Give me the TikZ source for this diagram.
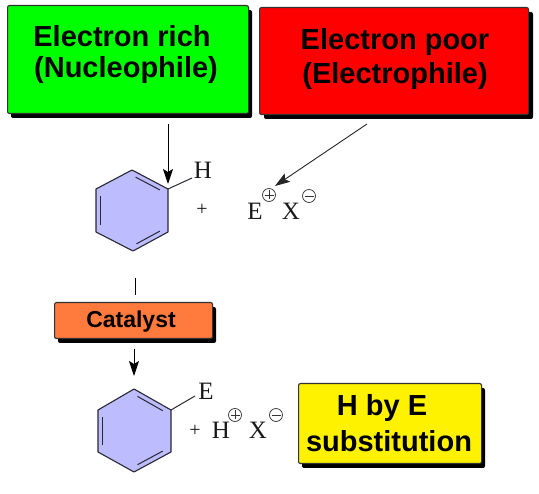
\documentclass[tikz,border=0pt]{standalone}
\usepackage{fontspec}
\setmainfont{Liberation Serif}
\newfontfamily\labelfont[Scale=1]{Liberation Sans}
\usetikzlibrary{arrows.meta,calc}
\definecolor{ringfill}{RGB}{188,188,255}
\definecolor{catfill}{RGB}{255,122,60}
\definecolor{bondcol}{RGB}{40,40,50}
\tikzset{
  x=1pt,y=-1pt,
  boxstyle/.style={draw=black!80,line width=1.1pt,rounded corners=2pt},
  shadowstyle/.style={fill=black,rounded corners=2pt},
  boxtext/.style={font=\labelfont\bfseries\fontsize{#1}{#1}\selectfont,text=black,inner sep=0pt,anchor=center},
  chem/.style={font=\fontsize{25}{25}\selectfont,inner sep=0pt,text=black!90},
  charge/.style={circle,draw=black!80,line width=0.7pt,minimum size=13pt,inner sep=0pt},
  plusmark/.style={font=\fontsize{20}{20}\selectfont,inner sep=0pt,text=black!90},
  ring/.style={fill=ringfill,draw=bondcol,line width=1.1pt,line join=round},
  bond/.style={draw=bondcol,line width=1pt},
  innerbond/.style={draw=bondcol,line width=1pt,shorten <=4pt,shorten >=4pt},
  flow/.style={draw=black,line width=0.9pt,-{Stealth[length=15pt,width=10pt,inset=3pt]}},
  flowthin/.style={draw=black!85,line width=0.9pt,-{Stealth[length=15pt,width=10pt,inset=3pt]}},
}
\newcommand{\chargeplus}[2]{%
  \node[charge] (#1) at (#2) {};
  \draw[black!80,line width=0.7pt] ($(#1)+(-4.5,0)$) -- ($(#1)+(4.5,0)$) ($(#1)+(0,-4.5)$) -- ($(#1)+(0,4.5)$);}
\newcommand{\chargeminus}[2]{%
  \node[charge] (#1) at (#2) {};
  \draw[black!80,line width=0.7pt] ($(#1)+(-4.5,0)$) -- ($(#1)+(4.5,0)$);}
\newcommand{\benzene}[7]{% prefix, top, rt, rb, bottom, lb, lt
  \coordinate (#1a) at (#2); \coordinate (#1b) at (#3); \coordinate (#1c) at (#4);
  \coordinate (#1d) at (#5); \coordinate (#1e) at (#6); \coordinate (#1f) at (#7);
  \coordinate (#1o) at ($(#1a)!0.5!(#1d)$);
  \draw[ring] (#1a)--(#1b)--(#1c)--(#1d)--(#1e)--(#1f)--cycle;
  \draw[innerbond] ($(#1o)!0.87!(#1a)$) -- ($(#1o)!0.87!(#1b)$);
  \draw[innerbond] ($(#1o)!0.87!(#1c)$) -- ($(#1o)!0.87!(#1d)$);
  \draw[innerbond] ($(#1o)!0.87!(#1e)$) -- ($(#1o)!0.87!(#1f)$);}
\begin{document}
\begin{tikzpicture}
\useasboundingbox (0,0) rectangle (539,494);
% green box
\fill[shadowstyle] (11,10) rectangle (252,118);
\node[boxstyle,fill=green,minimum width=241pt,minimum height=108pt,inner sep=0pt,anchor=north west] (rich) at (7,5) {};
\node[boxtext=29] (richa) at (122,36) {Electron rich};
\node[boxtext=29] (richb) at (126,70) {(Nucleophile)};
% red box
\fill[shadowstyle] (264,12) rectangle (533,119);
\node[boxstyle,fill=red,minimum width=269pt,minimum height=107pt,inner sep=0pt,anchor=north west] (poor) at (259,7) {};
\node[boxtext=29] (poora) at (395,42) {Electron poor};
\node[boxtext=29] (poorb) at (395,76) {(Electrophile)};
% orange box
\fill[shadowstyle] (58,307) rectangle (216,343);
\node[boxstyle,fill=catfill,minimum width=158pt,minimum height=36pt,inner sep=0pt,anchor=north west] (cat) at (54,302) {};
\node[boxtext=23] (catt) at (131,322) {Catalyst};
% yellow box
\fill[shadowstyle] (302,388) rectangle (485,468);
\node[boxstyle,fill=yellow,minimum width=183pt,minimum height=80pt,inner sep=0pt,anchor=north west] (yel) at (298,383) {};
\node[boxtext=29] (yela) at (382,408) {H by E};
\node[boxtext=29] (yelb) at (389,441) {substitution};
% rings
\benzene{p}{132,170}{168,189}{168,232}{133,251}{96,232}{96,189}
\benzene{q}{134,389}{171,410}{171,452}{134,472}{98,452}{98,410}
% substituents
\node[chem] (hone) at (203,170) {H};
\draw[bond] (pb) -- (192,178);
\node[chem] (eone) at (206,391) {E};
\draw[bond] (qb) -- (195,396);
% reactants
\node[plusmark] (plusa) at (202,210) {+};
\node[chem] (ee) at (255,211) {E};
\chargeplus{ep}{269,195}
\node[chem] (xx) at (291,211) {X};
\chargeminus{xm}{309,196}
% products
\node[plusmark] (plusb) at (195,431) {+};
\node[chem] (hh) at (221,430) {H};
\chargeplus{hp}{235,415}
\node[chem] (xb) at (258,430) {X};
\chargeminus{xbm}{276,415}
% arrows
\coordinate (a1s) at (168,124); \coordinate (a1e) at (168,184);
\draw[flow] (a1s) -- (a1e);
\coordinate (a2s) at (367,124); \coordinate (a2e) at (275,186);
\draw[flowthin] (a2s) -- (a2e);
\coordinate (l1s) at (135,278); \coordinate (l1e) at (135,295);
\draw[draw=black,line width=0.9pt] (l1s) -- (l1e);
\coordinate (a3s) at (134,349); \coordinate (a3e) at (134,376);
\draw[flow] (a3s) -- (a3e);
\end{tikzpicture}
\end{document}
